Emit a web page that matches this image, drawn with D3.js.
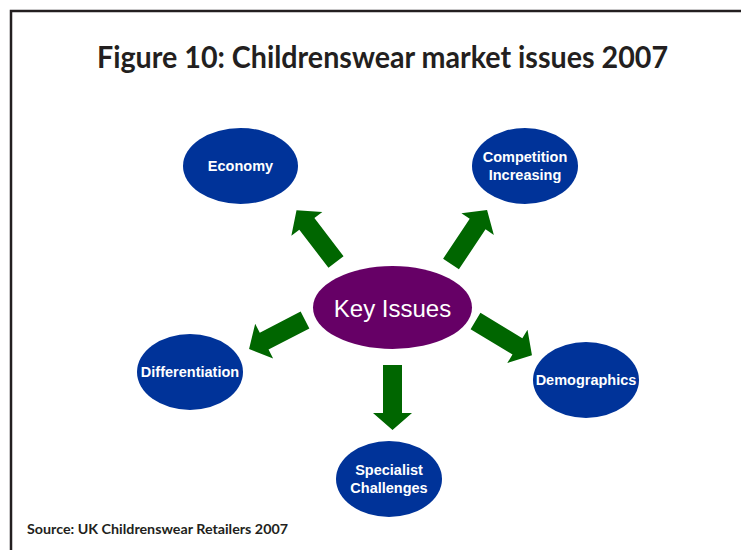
<!DOCTYPE html>
<html>
<head>
<meta charset="utf-8">
<script src="https://cdn.jsdelivr.net/npm/d3@7"></script>
<style>
  html, body { margin: 0; padding: 0; background: #ffffff; }
  svg { display: block; }
</style>
</head>
<body>
<svg id="chart" width="741" height="550"></svg>
<script>
// Diagram content
const titleText = "Figure 10: Childrenswear market issues 2007";
const sourceText = "Source: UK Childrenswear Retailers 2007";
const hubLabel = "Key Issues";
const issueLabels = [
  ["Economy"],
  ["Competition", "Increasing"],
  ["Differentiation"],
  ["Demographics"],
  ["Specialist", "Challenges"]
];

// Layout: ellipse centres and radii (hub first, then issues in the same order)
const hubLayout = { cx: 392.5, cy: 307.5, rx: 79.5, ry: 41.5 };
const issueCentres = [[240.5, 166], [525, 166], [190, 372], [586, 380], [389, 479]];
const issueRadii = [[57.5, 38], [53, 38], [53, 38], [53, 38], [53, 38]];
// Arrow tails (relative to hub centre), direction in degrees and length
const arrowTails = [[-56.5, -45.5], [58.5, -43.5], [-87.5, 12.5], [83, 13.5], [0, 57.5]];
const arrowAngles = [-127.4, -56.3, 152.6, 31.2, 90];
const arrowLengths = [65, 65, 63, 66, 65];

const colours = { issue: "#003399", hub: "#660066", arrow: "#006600", frame: "#231f20", text: "#231f20" };

const svg = d3.select("#chart");

// Frame: left and top rules
svg.append("path")
  .attr("d", d3.line()([[11, 550], [11, 11], [741, 11]]))
  .attr("fill", "none")
  .attr("stroke", colours.frame)
  .attr("stroke-width", 2.5);

// Title
svg.append("text")
  .attr("x", 97)
  .attr("y", 68)
  .attr("font-family", "Lato, 'Open Sans', sans-serif")
  .attr("font-weight", "bold")
  .attr("font-size", 30)
  .attr("textLength", 571)
  .attr("lengthAdjust", "spacingAndGlyphs")
  .attr("fill", colours.text)
  .text(titleText);

// Arrow shape in local coordinates, pointing along +x
function arrowPath(len) {
  const shaftHalf = 9.5, headHalf = 19.5, headLen = 17;
  const s = len - headLen;
  return d3.line()([
    [0, -shaftHalf], [s, -shaftHalf], [s, -headHalf], [len, 0],
    [s, headHalf], [s, shaftHalf], [0, shaftHalf]
  ]) + "Z";
}

const arrows = arrowTails.map((t, i) => ({ tail: t, angle: arrowAngles[i], len: arrowLengths[i] }));
svg.append("g").selectAll("path")
  .data(arrows)
  .join("path")
  .attr("d", d => arrowPath(d.len))
  .attr("transform", d => `translate(${hubLayout.cx + d.tail[0]},${hubLayout.cy + d.tail[1]}) rotate(${d.angle})`)
  .attr("fill", colours.arrow);

// Hub ellipse
svg.append("ellipse")
  .attr("cx", hubLayout.cx).attr("cy", hubLayout.cy)
  .attr("rx", hubLayout.rx).attr("ry", hubLayout.ry)
  .attr("fill", colours.hub);

svg.append("text")
  .attr("x", hubLayout.cx)
  .attr("y", hubLayout.cy + 9)
  .attr("text-anchor", "middle")
  .attr("font-family", "'Liberation Sans', Arial, sans-serif")
  .attr("font-size", 24)
  .attr("fill", "#ffffff")
  .text(hubLabel);

// Issue ellipses and labels
const issues = issueLabels.map((lines, i) => ({
  lines, cx: issueCentres[i][0], cy: issueCentres[i][1], rx: issueRadii[i][0], ry: issueRadii[i][1]
}));

const nodes = svg.append("g").selectAll("g")
  .data(issues)
  .join("g");

nodes.append("ellipse")
  .attr("cx", d => d.cx).attr("cy", d => d.cy)
  .attr("rx", d => d.rx).attr("ry", d => d.ry)
  .attr("fill", colours.issue);

nodes.append("text")
  .attr("text-anchor", "middle")
  .attr("font-family", "'Liberation Sans', Arial, sans-serif")
  .attr("font-weight", "bold")
  .attr("font-size", 14.5)
  .attr("fill", "#ffffff")
  .each(function (d) {
    const n = d.lines.length;
    const lineH = 18;
    const first = d.cy + 5 - (n - 1) * lineH / 2;
    d3.select(this).selectAll("tspan")
      .data(d.lines)
      .join("tspan")
      .attr("x", d.cx)
      .attr("y", (l, j) => first + j * lineH)
      .text(l => l);
  });

// Source note
svg.append("text")
  .attr("x", 27)
  .attr("y", 534)
  .attr("font-family", "Lato, 'Open Sans', sans-serif")
  .attr("font-weight", "bold")
  .attr("font-size", 13)
  .attr("textLength", 261)
  .attr("lengthAdjust", "spacingAndGlyphs")
  .attr("fill", colours.text)
  .text(sourceText);
</script>
</body>
</html>
